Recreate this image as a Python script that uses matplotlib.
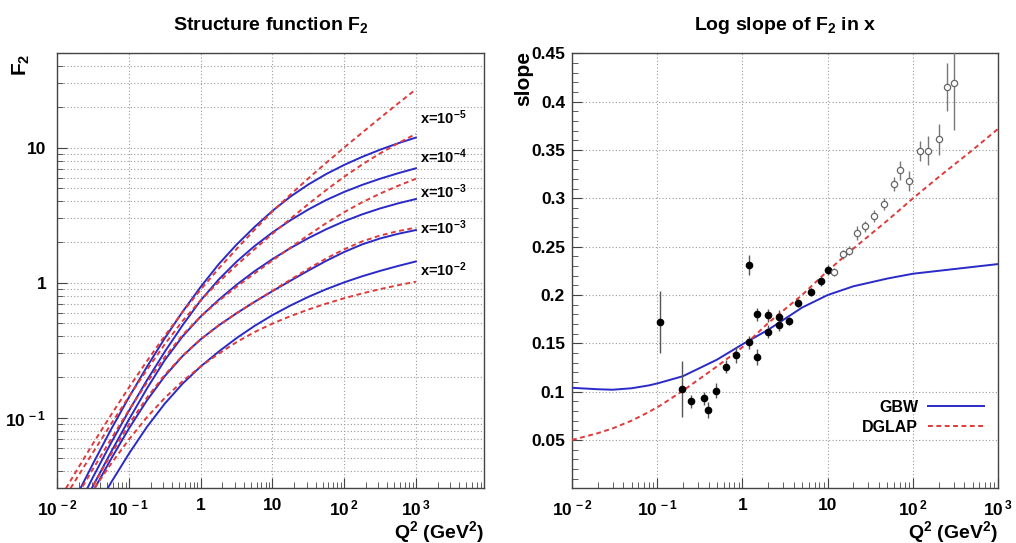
import numpy as np
import matplotlib
matplotlib.use("Agg")
import matplotlib.pyplot as plt
from matplotlib.ticker import FixedLocator, FixedFormatter, LogLocator, MultipleLocator, NullFormatter

plt.rcParams['font.family'] = ['Liberation Sans', 'DejaVu Sans']
plt.rcParams['font.weight'] = 'bold'
plt.rcParams['mathtext.fontset'] = 'custom'
plt.rcParams['mathtext.rm'] = 'Liberation Sans:bold'
plt.rcParams['mathtext.bf'] = 'Liberation Sans:bold'
plt.rcParams['mathtext.it'] = 'Liberation Sans:bold'

# ---- left panel: F2 vs Q2 ----
q2_grid = [0.01, 0.0178, 0.0316, 0.0562, 0.1, 0.178, 0.316, 0.562, 1, 1.78, 3.16, 5.62,
           10, 17.8, 31.6, 56.2, 100, 178, 316, 562, 1000]

gbw_x5 = [0.01365, 0.02523, 0.0459, 0.0820, 0.1421, 0.2388, 0.389, 0.613, 0.933, 1.371, 1.917,
          2.585, 3.408, 4.341, 5.34, 6.383, 7.457, 8.551, 9.66, 10.78, 11.885]
gbw_x4 = [0.01084, 0.02004, 0.03648, 0.06516, 0.1128, 0.1897, 0.309, 0.4868, 0.7413, 1.056, 1.433,
          1.867, 2.358, 2.901, 3.487, 4.099, 4.705, 5.302, 5.888, 6.466, 7.04]
gbw_x3 = [0.0094, 0.0173, 0.0314, 0.0558, 0.0973, 0.1648, 0.2677, 0.4021, 0.5623, 0.7475, 0.966,
          1.216, 1.496, 1.804, 2.138, 2.490, 2.851, 3.209, 3.548, 3.868, 4.169]
gbw_x3b = [0.00904, 0.01617, 0.02858, 0.04953, 0.0834, 0.1345, 0.2036, 0.2875, 0.3813, 0.4829, 0.5943,
           0.7211, 0.866, 1.034, 1.230, 1.452, 1.689, 1.922, 2.126, 2.301, 2.455]
gbw_x2 = [0.00653, 0.0114, 0.0196, 0.0331, 0.0543, 0.0856, 0.1274, 0.1794, 0.2399, 0.309, 0.389,
          0.4786, 0.5754, 0.6777, 0.7852, 0.8953, 1.006, 1.116, 1.223, 1.33, 1.437]

dglap_x5 = [0.02344, 0.0391, 0.0646, 0.105, 0.1679, 0.2634, 0.405, 0.6086, 0.891, 1.274, 1.778,
            2.466, 3.37, 4.493, 5.923, 7.735, 10.03, 12.93, 16.6, 21.23, 27.07]
dglap_x4 = [0.0209, 0.0342, 0.0556, 0.0898, 0.1437, 0.2268, 0.3508, 0.5233, 0.7413, 1.0116, 1.349,
            1.771, 2.304, 2.977, 3.823, 4.863, 6.095, 7.508, 9.07, 10.78, 12.66]
dglap_x3 = [0.01479, 0.025, 0.0419, 0.0696, 0.1142, 0.1827, 0.2818, 0.4121, 0.5623, 0.7328, 0.9333,
            1.172, 1.462, 1.817, 2.252, 2.763, 3.331, 3.941, 4.571, 5.218, 5.888]
dglap_x3b = [0.01003, 0.01793, 0.03133, 0.0537, 0.0894, 0.1408, 0.2083, 0.2895, 0.3813, 0.4829, 0.5943,
             0.7211, 0.8719, 1.053, 1.268, 1.513, 1.768, 2.022, 2.236, 2.41, 2.559]
dglap_x2 = [0.01122, 0.01825, 0.02917, 0.0456, 0.0692, 0.101, 0.1404, 0.187, 0.2399, 0.2985, 0.3631,
            0.4309, 0.4983, 0.5652, 0.6328, 0.7003, 0.7674, 0.833, 0.8964, 0.9579, 1.0177]

curve_labels = [r'x=10$^{-5}$', r'x=10$^{-4}$', r'x=10$^{-3}$', r'x=10$^{-3}$', r'x=10$^{-2}$']
label_f2 = [16.7, 8.6, 4.7, 2.55, 1.25]

# ---- right panel: log slope vs Q2 ----
q2_curve = [0.01, 0.02, 0.03, 0.05, 0.08, 0.1, 0.11, 0.2, 0.5, 1, 2, 5, 10, 20, 50, 100, 200, 500, 1000]
gbw_slope = [0.104, 0.1025, 0.102, 0.1035, 0.1065, 0.1085, 0.1095, 0.116, 0.133, 0.149, 0.164, 0.187,
             0.200, 0.209, 0.217, 0.222, 0.225, 0.229, 0.232]
dglap_slope = [0.050, 0.057, 0.062, 0.070, 0.079, 0.084, 0.086, 0.101, 0.126, 0.146, 0.171, 0.200,
               0.225, 0.248, 0.277, 0.300, 0.322, 0.350, 0.372]

q2_filled = [0.108, 0.197, 0.246, 0.35, 0.39, 0.49, 0.64, 0.84, 1.19, 1.19, 1.49, 1.49, 1.99, 1.99,
             2.7, 2.7, 3.48, 4.52, 6.43, 8.35, 10.0]
slope_filled = [0.172, 0.103, 0.090, 0.093, 0.081, 0.101, 0.126, 0.138, 0.151, 0.231, 0.136, 0.180,
                0.179, 0.162, 0.177, 0.169, 0.173, 0.192, 0.203, 0.214, 0.226]
err_filled = [0.032, 0.029, 0.007, 0.007, 0.008, 0.008, 0.007, 0.008, 0.007, 0.010, 0.008, 0.007,
              0.007, 0.007, 0.007, 0.006, 0.004, 0.004, 0.004, 0.005, 0.005]

q2_open = [12, 15, 17.7, 21.9, 27, 35, 45.6, 59.7, 70, 89.7, 121, 151, 200, 251, 303]
slope_open = [0.224, 0.242, 0.246, 0.264, 0.271, 0.282, 0.294, 0.315, 0.329, 0.318, 0.349, 0.349,
              0.361, 0.415, 0.419]
err_open = [0.004, 0.005, 0.005, 0.007, 0.006, 0.006, 0.006, 0.007, 0.010, 0.010, 0.010, 0.015,
            0.016, 0.025, 0.048]

blue = '#2a2ac8'
red = '#e03a3a'
grid_kw = dict(color='#9a9a9a', linestyle=(0, (1, 2)), linewidth=0.8)
decade_labels = [r'10$^{\,-2}$', r'10$^{\,-1}$', '1', '10', r'10$^{\,2}$', r'10$^{\,3}$']


def style_axis(ax):
    for s in ax.spines.values():
        s.set_color('#444444')
        s.set_linewidth(1.0)
    ax.tick_params(which='both', direction='in', top=False, right=False, labelsize=12.5, colors='#444444',
                   labelcolor='black')
    ax.tick_params(which='major', length=7)
    ax.tick_params(which='minor', length=4)


fig = plt.figure(figsize=(10.16, 5.43), dpi=100)

# left panel
ax1 = fig.add_axes([0.0564, 0.1007, 0.4200, 0.8011])
ax1.set_xscale('log')
ax1.set_yscale('log')
ax1.set_xlim(0.01, 8900)
ax1.set_ylim(0.03, 50)
gbw_sets = [gbw_x5, gbw_x4, gbw_x3, gbw_x3b, gbw_x2]
dglap_sets = [dglap_x5, dglap_x4, dglap_x3, dglap_x3b, dglap_x2]
for g, d in zip(gbw_sets, dglap_sets):
    ax1.plot(q2_grid, g, color=blue, lw=1.4, zorder=3)
    ax1.plot(q2_grid, d, color=red, lw=1.4, ls=(0, (2.5, 1.8)), zorder=4)
for lab, yv in zip(curve_labels, label_f2):
    ax1.text(1150, yv, lab, fontsize=10.5, fontweight='bold', ha='left', va='center')

ax1.xaxis.set_major_locator(FixedLocator([0.01, 0.1, 1, 10, 100, 1000]))
ax1.xaxis.set_major_formatter(FixedFormatter(decade_labels))
ax1.xaxis.set_minor_locator(LogLocator(base=10, subs=np.arange(2, 10), numticks=20))
ax1.xaxis.set_minor_formatter(NullFormatter())
ax1.yaxis.set_major_locator(FixedLocator([0.1, 1, 10]))
ax1.yaxis.set_major_formatter(FixedFormatter([r'10$^{\,-1}$', '1', '10']))
ax1.yaxis.set_minor_locator(LogLocator(base=10, subs=np.arange(2, 10), numticks=20))
ax1.yaxis.set_minor_formatter(NullFormatter())
ax1.grid(True, which='major', axis='x', **grid_kw)
ax1.grid(True, which='both', axis='y', **grid_kw)
style_axis(ax1)
ax1.tick_params(axis='x', pad=7)
ax1.tick_params(axis='y', pad=8)
ax1.set_title(r'Structure function F$_{2}$', fontsize=14, fontweight='bold', pad=17)

# right panel
ax2 = fig.add_axes([0.5630, 0.1007, 0.4195, 0.8011])
ax2.set_xscale('log')
ax2.set_xlim(0.01, 1000)
ax2.set_ylim(0, 0.45)
l_gbw, = ax2.plot(q2_curve, gbw_slope, color=blue, lw=1.4, zorder=3, label='GBW')
l_dgl, = ax2.plot(q2_curve, dglap_slope, color=red, lw=1.4, ls=(0, (2.5, 1.8)), zorder=4, label='DGLAP')
ax2.errorbar(q2_filled, slope_filled, yerr=err_filled, fmt='o', ms=4.5, color='black', mfc='black',
             ecolor='#555555', elinewidth=1.0, capsize=0, zorder=5)
ax2.errorbar(q2_open, slope_open, yerr=err_open, fmt='o', ms=4.5, color='#777777', mfc='white',
             mec='#666666', mew=0.9, ecolor='#777777', elinewidth=1.0, capsize=0, zorder=5)
ax2.xaxis.set_major_locator(FixedLocator([0.01, 0.1, 1, 10, 100, 1000]))
ax2.xaxis.set_major_formatter(FixedFormatter(decade_labels))
ax2.xaxis.set_minor_locator(LogLocator(base=10, subs=np.arange(2, 10), numticks=20))
ax2.xaxis.set_minor_formatter(NullFormatter())
ax2.yaxis.set_major_locator(FixedLocator([0.05, 0.1, 0.15, 0.2, 0.25, 0.3, 0.35, 0.4, 0.45]))
ax2.yaxis.set_major_formatter(FixedFormatter(['0.05', '0.1', '0.15', '0.2', '0.25', '0.3', '0.35', '0.4', '0.45']))
ax2.yaxis.set_minor_locator(MultipleLocator(0.01))
ax2.grid(True, which='major', **grid_kw)
style_axis(ax2)
ax2.tick_params(axis='x', pad=7)
ax2.tick_params(axis='y', pad=5)
ax2.set_title(r'Log slope of F$_{2}$ in x', fontsize=14, fontweight='bold', pad=17)
ax2.legend(handles=[l_gbw, l_dgl], loc='lower right', bbox_to_anchor=(1.0, 0.09), frameon=False,
           markerfirst=False, handlelength=3.5, handletextpad=0.6, fontsize=11.5, labelspacing=0.3)

# axis labels
fig.text(21 / 1016, 1 - 65 / 543, r'F$_{2}$', rotation=90, ha='center', va='center', fontsize=15)
fig.text(524 / 1016, 1 - 79 / 543, 'slope', rotation=90, ha='center', va='center', fontsize=15)
fig.text(484 / 1016, 1 - 532 / 543, r'Q$^{2}$ (GeV$^{2}$)', ha='right', va='center', fontsize=14)
fig.text(998 / 1016, 1 - 532 / 543, r'Q$^{2}$ (GeV$^{2}$)', ha='right', va='center', fontsize=14)

fig.savefig('out.png', dpi=100, facecolor='white')
